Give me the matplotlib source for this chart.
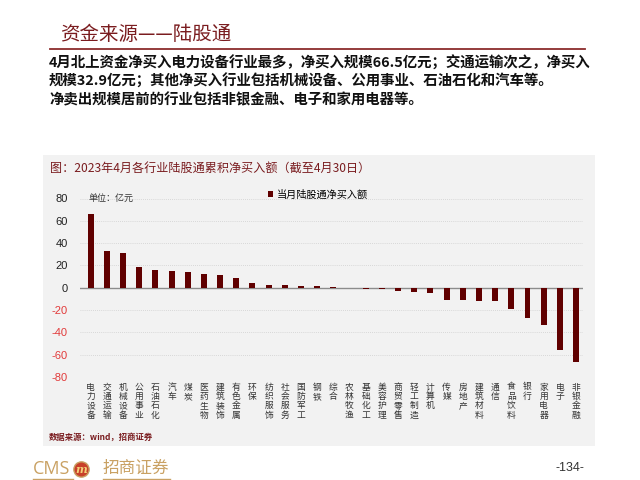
import matplotlib
matplotlib.use('Agg')
import matplotlib.pyplot as plt
from matplotlib.patches import Rectangle
from matplotlib.lines import Line2D

plt.rcParams['font.family'] = ['Noto Sans CJK SC', 'DejaVu Sans']

# data (亿元)
industries = ['电力设备', '交通运输', '机械设备', '公用事业', '石油石化', '汽车', '煤炭',
              '医药生物', '建筑装饰', '有色金属', '环保', '纺织服饰', '社会服务', '国防军工',
              '钢铁', '综合', '农林牧渔', '基础化工', '美容护理', '商贸零售', '轻工制造',
              '计算机', '传媒', '房地产', '建筑材料', '通信', '食品饮料', '银行', '家用电器',
              '电子', '非银金融']
net_buy = [66.5, 32.9, 31.2, 18.6, 15.6, 15.3, 14.1, 12.3, 11.1, 8.7, 3.9, 2.7, 2.7, 1.5,
           1.2, 0.4, -0.6, -1.0, -1.1, -2.7, -3.6, -4.5, -11.1, -11.1, -11.7, -12.0, -18.9,
           -27.3, -33.0, -55.8, -66.6]
y_ticks = [-80, -60, -40, -20, 0, 20, 40, 60, 80]

title = '资金来源——陆股通'
body = ['4月北上资金净买入电力设备行业最多，净买入规模66.5亿元；交通运输次之，净买入',
        '规模32.9亿元；其他净买入行业包括机械设备、公用事业、石油石化和汽车等。',
        '净卖出规模居前的行业包括非银金融、电子和家用电器等。']
chart_title = '图：2023年4月各行业陆股通累积净买入额（截至4月30日）'
series_name = '当月陆股通净买入额'
unit = '单位：亿元'
source = '数据来源：wind，招商证券'

DARK_RED = '#7a1c1f'
BAR_RED = '#600000'
GOLD = '#c9a163'

W, H = 640, 480
fig = plt.figure(figsize=(6.4, 4.8), dpi=100)
fig.patch.set_facecolor('white')


def fx(px):
    return px / W


def fy(py):
    return 1 - py / H


# page header
fig.text(fx(60), fy(34), title, color=DARK_RED, fontsize=14, va='center', ha='left')
fig.add_artist(Line2D([fx(50), fx(585)], [fy(49), fy(49)], color='#8b2c2c', lw=1.3))
for py, line in zip([63, 81, 100], body):
    fig.text(fx(49), fy(py), line, fontsize=10.4, fontweight='bold', va='center',
             ha='left', color='#111111')

# grey chart panel
fig.patches.append(Rectangle((fx(43), fy(446)), fx(595) - fx(43), fy(155) - fy(446),
                             transform=fig.transFigure, facecolor='#f2f2f2',
                             edgecolor='none', zorder=-5))
fig.text(fx(50), fy(168), chart_title, color=DARK_RED, fontsize=8.7, va='center')

ax = fig.add_axes([fx(80), fy(377), fx(583) - fx(80), fy(198.5) - fy(377)])
ax.set_zorder(2)
ax.set_facecolor('none')
x = list(range(len(industries)))
ax.bar(x, net_buy, width=0.37, color=BAR_RED, label=series_name, zorder=3)
ax.set_xlim(-0.66, 30.43)
ax.set_ylim(-80, 80)
ax.set_yticks(y_ticks)
for t in y_ticks:
    if t != 0:
        ax.axhline(t, color='#cfcfcf', lw=0.6, ls=(0, (1, 1.5)), zorder=1)
ax.axhline(0, color='#8c8c8c', lw=1.0, zorder=2)
for s in ax.spines.values():
    s.set_visible(False)
ax.tick_params(axis='both', length=0)
ax.tick_params(axis='y', pad=9)
ax.set_yticklabels([str(t) for t in y_ticks], fontsize=8, family='Liberation Sans')
for lbl, t in zip(ax.get_yticklabels(), y_ticks):
    lbl.set_color('#e23a3a' if t < 0 else '#222222')
ax.set_xticks(x)
ax.set_xticklabels(['\n'.join(n) for n in industries], fontsize=6.3, va='top',
                   linespacing=1.05, color='#333333')
ax.tick_params(axis='x', pad=4)

ax.text(0.016, 1.0, unit, transform=ax.transAxes, fontsize=6.5, va='center',
        color='#333333')
ax.legend(loc='center left', bbox_to_anchor=(0.365, 1.02), frameon=False,
          fontsize=7.3, handlelength=0.55, handleheight=0.55, handletextpad=0.4,
          borderaxespad=0)

fig.text(fx(49), fy(437), source, fontsize=6, fontweight='bold', color=DARK_RED,
         va='center')

# footer
fig.text(fx(33), fy(469), 'CMS', fontsize=13, color=GOLD, va='center',
         family='Open Sans')
fig.add_artist(Line2D([fx(81)], [fy(469)], marker='o', markersize=11,
                      markerfacecolor='#c8402a', markeredgecolor=GOLD, mew=1))
fig.text(fx(81), fy(469.5), 'm', fontsize=8, color='#f3d27a', ha='center',
         va='center', fontweight='bold', style='italic', family='DejaVu Serif')
fig.text(fx(103), fy(468), '招商证券', fontsize=12, color=GOLD, va='center')
fig.add_artist(Line2D([fx(33), fx(73)], [fy(479), fy(479)], color=GOLD, lw=1))
fig.add_artist(Line2D([fx(103), fx(170)], [fy(479), fy(479)], color=GOLD, lw=1))
fig.text(fx(584), fy(468), '-134-', fontsize=9, color='#333333', ha='right',
         va='center', family='Liberation Sans')

fig.savefig('out.png', dpi=100)
plt.close(fig)
